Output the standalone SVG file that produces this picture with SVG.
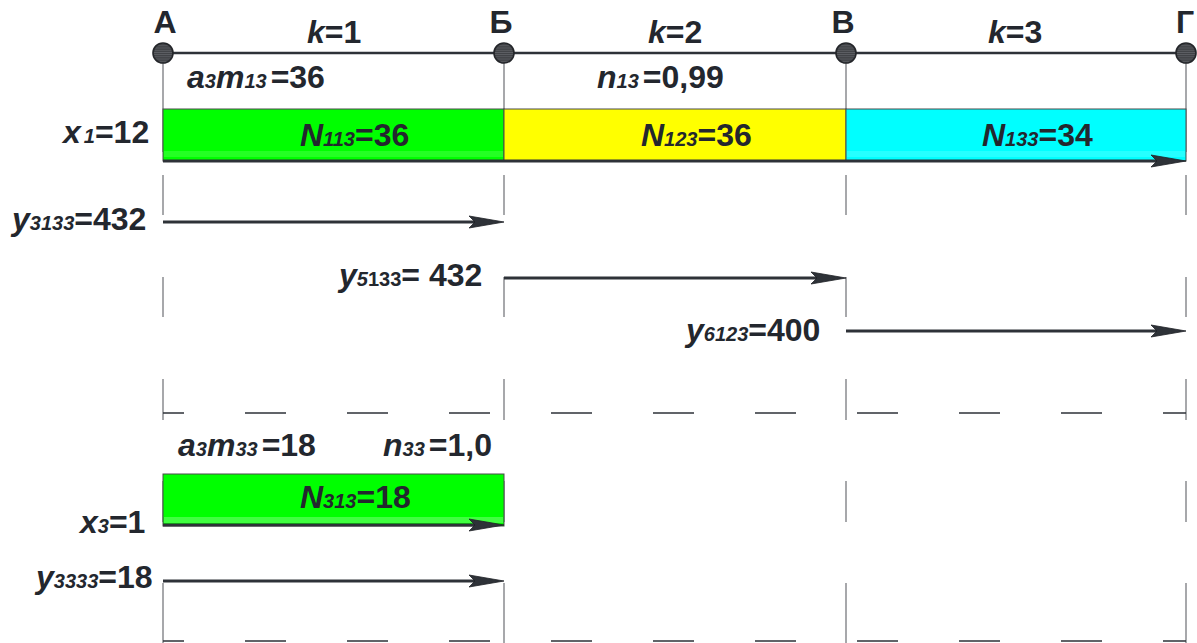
<svg xmlns="http://www.w3.org/2000/svg" width="1197" height="643" viewBox="0 0 1197 643">
<style>
.t{font-family:"Liberation Sans",Arial,sans-serif;font-weight:bold;font-size:32px;fill:#23272e}
.i{font-style:italic}
.s{font-size:20px;font-style:italic}
.su{font-size:20px;font-style:normal}
.grid{stroke:#8a8c90;stroke-width:1.5;fill:none}
.dash{stroke:#2e3238;stroke-width:1.6;fill:none;stroke-dasharray:41 61;stroke-dashoffset:20}
.arr{stroke:#2e3238;stroke-width:3;fill:none;marker-end:url(#ah)}
.axis{stroke:#2e3238;stroke-width:2.6;fill:none}
.box{stroke:#4a4a4a;stroke-width:1}
.pt{fill:url(#hatch);stroke:#24262a;stroke-width:1.6}
</style>
<defs>
<marker id="ah" markerUnits="userSpaceOnUse" markerWidth="40" markerHeight="14" viewBox="0 -7 40 14" refX="23" refY="0" orient="auto" overflow="visible">
<path d="M35,0 L0,-6 L6,0 L0,6 Z" fill="#2e3238" stroke="#1e2126" stroke-width="0.8"/>
</marker>
<pattern id="hatch" width="4" height="2.2" patternUnits="userSpaceOnUse">
<rect width="4" height="2.2" fill="#404246"/>
<rect y="1.4" width="4" height="0.8" fill="#5f6166"/>
</pattern>
</defs>

<g id="grid">
<path class="grid" d="M163,53V152 M163,175V215 M163,277V317 M163,379V420 M163,481V522 M163,583V643"/>
<path class="grid" d="M504,53V152 M504,175V215 M504,277V317 M504,379V420 M504,481V522 M504,583V643"/>
<path class="grid" d="M846,53V152 M846,175V215 M846,277V317 M846,379V420 M846,481V522 M846,583V643"/>
<path class="grid" d="M1186,53V152 M1186,175V215 M1186,277V317 M1186,379V420 M1186,481V522 M1186,583V643"/>
<path class="dash" d="M163,413H1186"/>
<path class="dash" d="M163,641H1186"/>
</g>

<g id="bar1">
<rect class="box" x="163" y="109" width="341" height="52" fill="#00ff00"/>
<rect x="164" y="151" width="339" height="6" fill="#3cff3c" opacity="0.6"/>
<text class="t" x="300" y="146"><tspan class="i">N</tspan><tspan class="s">113</tspan>=36</text>
</g>
<g id="bar2">
<rect class="box" x="504" y="109" width="342" height="52" fill="#ffff00"/>
<text class="t" x="641" y="146"><tspan class="i">N</tspan><tspan class="s">123</tspan>=36</text>
</g>
<g id="bar3">
<rect class="box" x="846" y="109" width="340" height="52" fill="#00ffff"/>
<rect x="847" y="151" width="338" height="6" fill="#40ffff" opacity="0.6"/>
<text class="t" x="982" y="146"><tspan class="i">N</tspan><tspan class="s">133</tspan>=34</text>
</g>
<g id="bar4">
<rect class="box" x="163" y="474" width="341" height="52" fill="#00ff00"/>
<rect x="164" y="517" width="339" height="6" fill="#50ff50" opacity="0.8"/>
<text class="t" x="300" y="508"><tspan class="i">N</tspan><tspan class="s">313</tspan>=18</text>
</g>

<g id="connectors">
<path class="axis" d="M163,53H1186"/>
<path class="arr" d="M163,161H1174"/>
<path class="arr" d="M163,222H492"/>
<path class="arr" d="M504,278H834"/>
<path class="arr" d="M846,331H1174"/>
<path class="arr" d="M163,525H492"/>
<path class="arr" d="M163,581H492"/>
</g>

<g id="nodeA"><circle class="pt" cx="163" cy="53" r="10"/><text class="t" x="165" y="33" text-anchor="middle">А</text></g>
<g id="nodeB"><circle class="pt" cx="504" cy="53" r="10"/><text class="t" x="501" y="33" text-anchor="middle">Б</text></g>
<g id="nodeV"><circle class="pt" cx="846" cy="53" r="10"/><text class="t" x="843" y="33" text-anchor="middle">В</text></g>
<g id="nodeG"><circle class="pt" cx="1186" cy="53" r="10"/><text class="t" x="1185" y="33" text-anchor="middle">Г</text></g>

<g id="labels">
<text class="t" x="307" y="43"><tspan class="i">k</tspan>=1</text>
<text class="t" x="648" y="43"><tspan class="i">k</tspan>=2</text>
<text class="t" x="988" y="43"><tspan class="i">k</tspan>=3</text>
<text class="t" x="187" y="88"><tspan class="i">a</tspan><tspan class="s">3</tspan><tspan class="i">m</tspan><tspan class="s">13</tspan><tspan dx="4">=36</tspan></text>
<text class="t" x="597" y="88"><tspan class="i">n</tspan><tspan class="s">13</tspan><tspan dx="4">=0,99</tspan></text>
<text class="t" x="63" y="143"><tspan class="i">x</tspan><tspan class="s" dx="3">1</tspan>=12</text>
<text class="t" x="12" y="230"><tspan class="i">y</tspan><tspan class="s">3133</tspan>=432</text>
<text class="t" x="339" y="286"><tspan class="i">y</tspan><tspan class="s">5</tspan><tspan class="su">133</tspan>= 432</text>
<text class="t" x="686" y="341"><tspan class="i">y</tspan><tspan class="s">6123</tspan>=400</text>
<text class="t" x="178" y="456"><tspan class="i">a</tspan><tspan class="s">3</tspan><tspan class="i">m</tspan><tspan class="s">33</tspan><tspan dx="4">=18</tspan></text>
<text class="t" x="383" y="456"><tspan class="i">n</tspan><tspan class="s">33</tspan><tspan dx="4">=1,0</tspan></text>
<text class="t" x="80" y="533"><tspan class="i">x</tspan><tspan class="s">3</tspan>=1</text>
<text class="t" x="36" y="588"><tspan class="i">y</tspan><tspan class="s">3333</tspan>=18</text>
</g>
</svg>
